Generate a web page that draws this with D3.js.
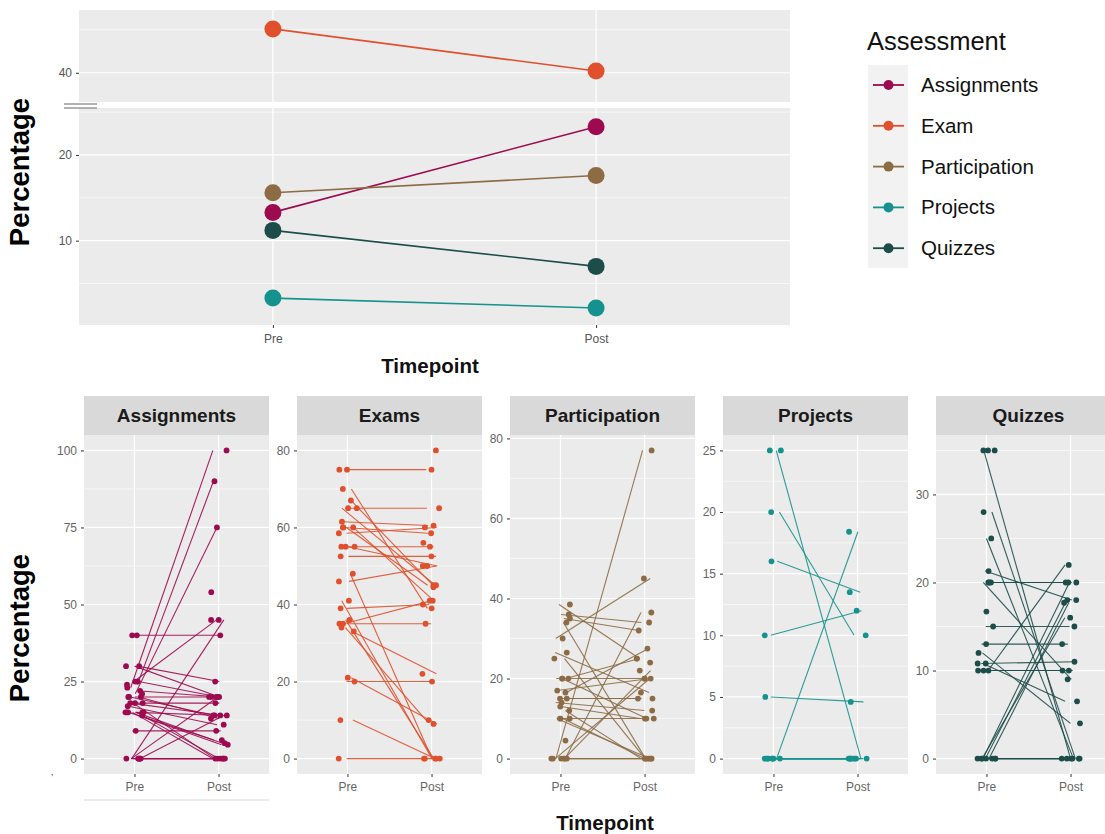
<!DOCTYPE html>
<html><head><meta charset="utf-8">
<script src="https://cdn.jsdelivr.net/npm/d3@7"></script>
<style>body{margin:0;background:#fff;} text{font-family:"Liberation Sans", Arial, sans-serif;}</style>
</head><body><svg id="c" width="1105" height="834"></svg>
<script>
// ---------------- DATA ----------------
const timepoints = ["Pre", "Post"];
const assessments = ["Assignments", "Exam", "Participation", "Projects", "Quizzes"];
const colors = ["#9E0A50", "#E0502C", "#8C6B45", "#15928D", "#1C4D49"];
const meanPre  = [13.3, 45.1, 15.6, 3.3, 11.2];
const meanPost = [23.3, 40.2, 17.6, 2.15, 7.0];
const topUpperTicks = [40];
const topLowerTicks = [10, 20];

const facetNames = ["Assignments", "Exams", "Participation", "Projects", "Quizzes"];
const assignPre  = [23, 24, 21, 25, 0, 40, 30, 30, 20, 18, 17, 15, 15, 18, 14, 9, 0, 0, 0, 15, 20, 25, 15, 0, 40, 0, 22, 20, null, 18, 15];
const assignPost = [100, 90, 75, 45, 45, 40, 25, 20, 20, 18, 11, 14, 5, 0, 4.5, 9, 0, 20, 14, 0, 13, 20, 6, 0, null, 0, 20, 14, 54, 14, 0];
const examPre  = [75, 70, 65, 65, 61.5, 60, 60, 58.5, 55, 55, 52.5, 48, 46, 41, 39, 36, 35, 35, 34, 33, 21, 20, 10, 0, 67, 75, 55, 60, null, null];
const examPost = [75, 39, 65, 45, 60.5, 58.5, 41, 60, 55, 50, 52.5, 0, 50, 0, 40, 0, 41, 35, 10, 22, 9, 20, 0, 0, 44.5, null, null, 45, 80, 56];
const partPre  = [0, 30, 0, 36, 35, 38.5, 34, 26.5, 25, 20, 20, 15, 14, 13, 12, 10, 10, 0, 0, 16.5, 17, 15, 4.5, 0, 20, 0, null, 10];
const partPost = [77, 45, 36.5, 34, 32, 25, 0, 16.5, 0, 25, 20, 15, 12, 10, 0, 10, 0, 22, 0, 27.5, 20, 15, null, 20, 10, 0, 24, 0];
const projPre  = [25, 25, 20, 16, 10, 5, 0, 0, 0, 0, 0, 0, 0, 0];
const projPost = [0, null, 10, 13.5, 12, 4.6, 18.4, 0, 0, 0, 0, 0, 0, 0];
const quizPre  = [35, 35, 28, 25, 21.3, 20, 20, 16.7, 15, 13, 12, 10.8, 10.8, 10, 10, 10, 0, 0, 0, 0, 0, 0, 0, 35, 20];
const quizPost = [0, null, 0, 0, 18, 20, 9, null, 15, 13, 4, 11, 6.5, 10, 22, 10, 20, 18, 17.7, 16, 0, 0, 0, null, 20];
const facetTicks = [[0, 25, 50, 75, 100], [0, 20, 40, 60, 80], [0, 20, 40, 60, 80], [0, 5, 10, 15, 20, 25], [0, 10, 20, 30]];
const facetPre  = [assignPre, examPre, partPre, projPre, quizPre];
const facetPost = [assignPost, examPost, partPost, projPost, quizPost];

// ---------------- DRAW ----------------
const svg = d3.select("#c");
svg.append("rect").attr("width", 1105).attr("height", 834).attr("fill", "#fff");
const PANEL = "#EBEBEB", GRID = "#FFFFFF", AX = "#555";
const FONT = "Liberation Sans, Arial, sans-serif";

// deterministic horizontal jitter (layout only)
function jit(i, s) { const v = Math.sin(i * 12.9898 + s * 78.233) * 43758.5453; return (v - Math.floor(v)) - 0.5; }

// ===== Top panel =====
const L = 79, R = 790;
const xTop = d3.scalePoint().domain(timepoints).range([L, R]).padding(0.6);
const yUp = d3.scaleLinear().domain([36.6, 47.3]).range([102, 10]);
const yLo = d3.scaleLinear().domain([0.16, 25.48]).range([325, 108]);
const segs = [{y: yUp, major: topUpperTicks, minor: [45]}, {y: yLo, major: topLowerTicks, minor: [5, 15, 25]}];
segs.forEach(s => {
  const [d0, d1] = s.y.domain();
  svg.append("rect").attr("x", L).attr("y", s.y(d1)).attr("width", R - L).attr("height", s.y(d0) - s.y(d1)).attr("fill", PANEL);
  s.minor.filter(v => v > d0 && v < d1).forEach(v => svg.append("line").attr("x1", L).attr("x2", R).attr("y1", s.y(v)).attr("y2", s.y(v)).attr("stroke", GRID).attr("stroke-width", 0.6));
  s.major.forEach(v => svg.append("line").attr("x1", L).attr("x2", R).attr("y1", s.y(v)).attr("y2", s.y(v)).attr("stroke", GRID).attr("stroke-width", 1.2));
  timepoints.forEach(t => svg.append("line").attr("x1", xTop(t)).attr("x2", xTop(t)).attr("y1", s.y(d1)).attr("y2", s.y(d0)).attr("stroke", GRID).attr("stroke-width", 1.2));
  const ax = svg.append("g").attr("transform", `translate(${L},0)`).call(d3.axisLeft(s.y).tickValues(s.major).tickSize(3).tickPadding(4));
  ax.select(".domain").remove();
  ax.selectAll("line").attr("stroke", "#333");
  ax.selectAll("text").attr("font-size", 12).attr("fill", AX).attr("font-family", FONT);
});
// break marks
[104, 108].forEach(y => svg.append("line").attr("x1", 64).attr("x2", 97).attr("y1", y).attr("y2", y).attr("stroke", "#999").attr("stroke-width", 1.4));
// x axis top
const axT = svg.append("g").attr("transform", `translate(0,325)`).call(d3.axisBottom(xTop).tickSize(3).tickPadding(6));
axT.select(".domain").remove();
axT.selectAll("line").attr("stroke", "#333");
axT.selectAll("text").attr("font-size", 12).attr("fill", AX).attr("font-family", FONT);
const ySel = v => v > 30 ? yUp(v) : yLo(v);
assessments.forEach((a, i) => {
  svg.append("line").attr("x1", xTop("Pre")).attr("y1", ySel(meanPre[i])).attr("x2", xTop("Post")).attr("y2", ySel(meanPost[i]))
    .attr("stroke", colors[i]).attr("stroke-width", 1.6);
  [["Pre", meanPre[i]], ["Post", meanPost[i]]].forEach(([t, v]) =>
    svg.append("circle").attr("cx", xTop(t)).attr("cy", ySel(v)).attr("r", 8.5).attr("fill", colors[i]));
});
svg.append("text").attr("x", 430).attr("y", 373).attr("text-anchor", "middle").attr("font-size", 20.5).attr("font-weight", "bold").attr("fill", "#111").text("Timepoint");
svg.append("text").attr("transform", "translate(29,172) rotate(-90)").attr("text-anchor", "middle").attr("font-size", 27.5).attr("font-weight", "bold").attr("fill", "#000").text("Percentage");

// Legend
const lg = svg.append("g");
lg.append("text").attr("x", 867).attr("y", 50).attr("font-size", 25.5).attr("fill", "#111").text("Assessment");
lg.append("rect").attr("x", 868).attr("y", 65).attr("width", 40).attr("height", 203).attr("fill", "#F2F2F2");
assessments.forEach((a, i) => {
  const y = 85 + i * 40.8;
  lg.append("line").attr("x1", 873).attr("x2", 904).attr("y1", y).attr("y2", y).attr("stroke", colors[i]).attr("stroke-width", 1.8);
  lg.append("circle").attr("cx", 888.5).attr("cy", y).attr("r", 5).attr("fill", colors[i]);
  lg.append("text").attr("x", 921).attr("y", y + 7).attr("font-size", 20.5).attr("fill", "#111").text(a);
});

// ===== Facets =====
const PT = 435, PB = 774, PW = 185;
facetNames.forEach((name, f) => {
  const left = 84 + f * 213;
  const pre = facetPre[f], post = facetPost[f];
  const all = pre.concat(post).filter(v => v !== null);
  const mn = d3.min(all), mx = d3.max(all), ex = (mx - mn) * 0.05;
  const y = d3.scaleLinear().domain([mn - ex, mx + ex]).range([PB, PT]);
  const x = d3.scalePoint().domain(timepoints).range([left, left + PW]).padding(0.6);
  const g = svg.append("g");
  g.append("rect").attr("x", left).attr("y", 396).attr("width", PW).attr("height", PT - 396).attr("fill", "#D9D9D9");
  g.append("text").attr("x", left + PW / 2).attr("y", 422).attr("text-anchor", "middle").attr("font-size", 19).attr("font-weight", "bold").attr("fill", "#1A1A1A").text(name);
  g.append("rect").attr("x", left).attr("y", PT).attr("width", PW).attr("height", PB - PT).attr("fill", PANEL);
  const tks = facetTicks[f];
  const step = tks[1] - tks[0];
  const minors = [];
  for (let v = tks[0] - step / 2; v <= mx + ex; v += step) if (v > mn - ex) minors.push(v);
  minors.forEach(v => g.append("line").attr("x1", left).attr("x2", left + PW).attr("y1", y(v)).attr("y2", y(v)).attr("stroke", GRID).attr("stroke-width", 0.6));
  tks.forEach(v => g.append("line").attr("x1", left).attr("x2", left + PW).attr("y1", y(v)).attr("y2", y(v)).attr("stroke", GRID).attr("stroke-width", 1.2));
  timepoints.forEach(t => g.append("line").attr("x1", x(t)).attr("x2", x(t)).attr("y1", PT).attr("y2", PB).attr("stroke", GRID).attr("stroke-width", 1.2));
  const ay = g.append("g").attr("transform", `translate(${left},0)`).call(d3.axisLeft(y).tickValues(tks).tickSize(3).tickPadding(4));
  ay.select(".domain").remove();
  ay.selectAll("line").attr("stroke", "#333");
  ay.selectAll("text").attr("font-size", 12).attr("fill", "#666").attr("font-family", FONT);
  const axb = g.append("g").attr("transform", `translate(0,${PB})`).call(d3.axisBottom(x).tickSize(3).tickPadding(5));
  axb.select(".domain").remove();
  axb.selectAll("line").attr("stroke", "#333");
  axb.selectAll("text").attr("font-size", 12).attr("fill", "#666").attr("font-family", FONT);
  // lines
  pre.forEach((p, i) => {
    const q = post[i];
    if (p === null || q === null) return;
    g.append("line").attr("x1", x("Pre") + jit(i, f * 3 + 1) * 12).attr("y1", y(p))
      .attr("x2", x("Post") + jit(i, f * 3 + 2) * 12).attr("y2", y(q))
      .attr("stroke", colors[f]).attr("stroke-width", 1.1).attr("stroke-opacity", 0.9);
  });
  // points
  pre.forEach((p, i) => { if (p !== null) g.append("circle").attr("cx", x("Pre") + jit(i, f * 5 + 7) * 19).attr("cy", y(p)).attr("r", 2.9).attr("fill", colors[f]); });
  post.forEach((q, i) => { if (q !== null) g.append("circle").attr("cx", x("Post") + jit(i, f * 5 + 9) * 19).attr("cy", y(q)).attr("r", 2.9).attr("fill", colors[f]); });
});
svg.append("line").attr("x1", 84).attr("x2", 269).attr("y1", 800).attr("y2", 800).attr("stroke", "#E6E6E6").attr("stroke-width", 1.5);
svg.append("text").attr("x", 51).attr("y", 775).attr("font-size", 9).attr("fill", "#333").text(",");
svg.append("text").attr("x", 605).attr("y", 830).attr("text-anchor", "middle").attr("font-size", 20.5).attr("font-weight", "bold").attr("fill", "#111").text("Timepoint");
svg.append("text").attr("transform", "translate(29,628) rotate(-90)").attr("text-anchor", "middle").attr("font-size", 27.5).attr("font-weight", "bold").attr("fill", "#000").text("Percentage");
</script></body></html>
